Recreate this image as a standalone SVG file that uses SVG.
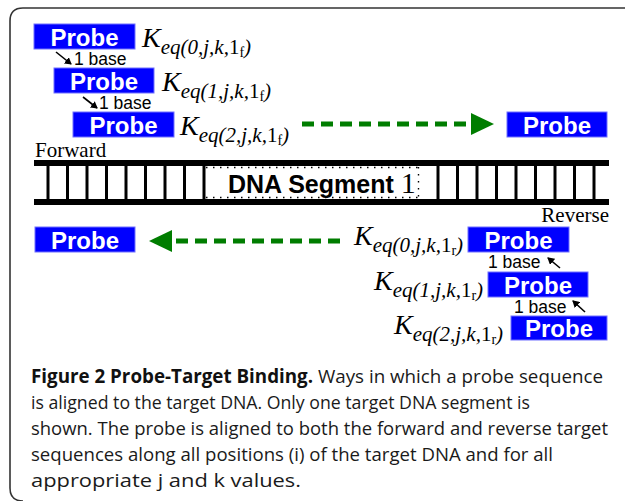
<svg xmlns="http://www.w3.org/2000/svg" width="625" height="501" viewBox="0 0 625 501">
<defs>
<marker id="ah" markerWidth="8" markerHeight="8" refX="6" refY="4" orient="auto" markerUnits="userSpaceOnUse"><path d="M0,0 L7,4 L0,8 Z" fill="#000"/></marker>
<style>
.pb{fill:#0000ff;stroke:#7070ff;stroke-width:1}
.pt{font-family:"Liberation Sans",Arial,sans-serif;font-weight:bold;font-size:24px;fill:#fff;text-anchor:middle}
.k{font-family:"Liberation Serif","Times New Roman",serif;font-style:italic;font-size:21px;fill:#000}
.K{font-size:28px}
.up{font-style:normal}
.ss{font-style:normal;font-size:14px}
.base{font-family:"Liberation Sans",Arial,sans-serif;font-size:17.5px;fill:#000}
.bl{stroke:#000;stroke-width:1.6;marker-end:url(#ah)}
.rail{fill:#000}
.rung{stroke:#000;stroke-width:3}
.gd{stroke:#007d00;stroke-width:5;stroke-dasharray:12,7;fill:none}
.gh{fill:#007d00}
.lab{font-family:"Liberation Serif","Times New Roman",serif;font-size:21px;fill:#000}
.cap{font-family:"Open Sans","Noto Sans",sans-serif;font-size:19px;fill:#1a1a1a}
</style>
</defs>
<rect width="625" height="501" fill="#fff"/>
<path d="M625,8 H23 Q10,8 10,21 V488 Q10,501 23,501" fill="none" stroke="#333" stroke-width="1.6"/>

<g id="dna">
<rect class="rail" x="34" y="160" width="575" height="6"/>
<rect class="rail" x="34" y="199" width="575" height="6"/>
<g class="rung">
<line x1="48" y1="166" x2="48" y2="199"/><line x1="67.5" y1="166" x2="67.5" y2="199"/><line x1="87" y1="166" x2="87" y2="199"/><line x1="106.5" y1="166" x2="106.5" y2="199"/><line x1="126" y1="166" x2="126" y2="199"/><line x1="145.5" y1="166" x2="145.5" y2="199"/><line x1="165" y1="166" x2="165" y2="199"/><line x1="184.5" y1="166" x2="184.5" y2="199"/><line x1="204" y1="166" x2="204" y2="199"/>
<line x1="438" y1="166" x2="438" y2="199"/><line x1="457.5" y1="166" x2="457.5" y2="199"/><line x1="477" y1="166" x2="477" y2="199"/><line x1="496.5" y1="166" x2="496.5" y2="199"/><line x1="516" y1="166" x2="516" y2="199"/><line x1="535.5" y1="166" x2="535.5" y2="199"/><line x1="555" y1="166" x2="555" y2="199"/><line x1="574.5" y1="166" x2="574.5" y2="199"/><line x1="594" y1="166" x2="594" y2="199"/>
</g>
<rect x="206" y="167" width="213" height="31" fill="#fff"/>
<path d="M206,167.5 H419 M206,197.5 H419 M418.5,167 V198" fill="none" stroke="#000" stroke-width="1.4" stroke-dasharray="1.5,5.5"/>
<text x="228" y="193" font-family="Liberation Sans,Arial,sans-serif" font-weight="bold" font-size="25" fill="#000">DNA Segment <tspan font-family="Liberation Serif,Times New Roman,serif" font-weight="normal" font-size="30">1</tspan></text>
<text class="lab" x="35" y="157">Forward</text>
<text class="lab" x="609" y="222" text-anchor="end">Reverse</text>
</g>

<g id="probe-f0"><rect class="pb" x="34" y="24" width="101" height="25"/><text class="pt" x="84.5" y="45.5">Probe</text>
<text class="k" x="142" y="47"><tspan class="K">K</tspan><tspan dy="7">eq(0,j,k,</tspan><tspan class="up">1</tspan><tspan class="ss" dy="3">f</tspan><tspan dy="-3">)</tspan></text></g>
<g id="probe-f1"><rect class="pb" x="54" y="68" width="100" height="25"/><text class="pt" x="104" y="89.5">Probe</text>
<text class="k" x="162" y="91"><tspan class="K">K</tspan><tspan dy="7">eq(1,j,k,</tspan><tspan class="up">1</tspan><tspan class="ss" dy="3">f</tspan><tspan dy="-3">)</tspan></text></g>
<g id="probe-f2"><rect class="pb" x="73" y="112" width="101" height="25"/><text class="pt" x="123.5" y="133.5">Probe</text>
<text class="k" x="180" y="135"><tspan class="K">K</tspan><tspan dy="7">eq(2,j,k,</tspan><tspan class="up">1</tspan><tspan class="ss" dy="3">f</tspan><tspan dy="-3">)</tspan></text></g>
<g id="probe-f-end"><rect class="pb" x="507" y="112" width="100" height="25"/><text class="pt" x="557" y="133.5">Probe</text></g>

<g id="probe-r-end"><rect class="pb" x="35" y="227" width="100" height="25"/><text class="pt" x="85" y="248.5">Probe</text></g>
<g id="probe-r0"><rect class="pb" x="468" y="227" width="101" height="25"/><text class="pt" x="518.5" y="248.5">Probe</text>
<text class="k" x="354" y="245"><tspan class="K">K</tspan><tspan dy="7">eq(0,j,k,</tspan><tspan class="up">1</tspan><tspan class="ss" dy="3">r</tspan><tspan dy="-3">)</tspan></text></g>
<g id="probe-r1"><rect class="pb" x="488" y="272" width="100" height="25"/><text class="pt" x="538" y="293.5">Probe</text>
<text class="k" x="374" y="290"><tspan class="K">K</tspan><tspan dy="7">eq(1,j,k,</tspan><tspan class="up">1</tspan><tspan class="ss" dy="3">r</tspan><tspan dy="-3">)</tspan></text></g>
<g id="probe-r2"><rect class="pb" x="511" y="316" width="96" height="24"/><text class="pt" x="559" y="337">Probe</text>
<text class="k" x="394" y="334"><tspan class="K">K</tspan><tspan dy="7">eq(2,j,k,</tspan><tspan class="up">1</tspan><tspan class="ss" dy="3">r</tspan><tspan dy="-3">)</tspan></text></g>

<g id="connectors">
<line class="bl" x1="56" y1="52" x2="71" y2="64"/>
<text class="base" x="74" y="65">1 base</text>
<line class="bl" x1="83" y1="97" x2="97" y2="108"/>
<text class="base" x="99" y="109">1 base</text>
<line class="bl" x1="560" y1="268" x2="548" y2="258"/>
<text class="base" x="488" y="268">1 base</text>
<line class="bl" x1="585" y1="312" x2="573" y2="301"/>
<text class="base" x="514" y="313">1 base</text>
<line class="gd" x1="302" y1="124" x2="471" y2="124"/>
<polygon class="gh" points="471,113 494,124 471,135"/>
<line class="gd" x1="340" y1="241" x2="172" y2="241"/>
<polygon class="gh" points="172,230 149,241 172,252"/>
</g>

<g id="caption">
<text class="cap" x="31" y="383" textLength="572" lengthAdjust="spacingAndGlyphs"><tspan font-weight="bold" fill="#111">Figure 2 Probe-Target Binding.</tspan> Ways in which a probe sequence</text>
<text class="cap" x="31" y="409" textLength="499" lengthAdjust="spacingAndGlyphs">is aligned to the target DNA. Only one target DNA segment is</text>
<text class="cap" x="31" y="435" textLength="577" lengthAdjust="spacingAndGlyphs">shown. The probe is aligned to both the forward and reverse target</text>
<text class="cap" x="31" y="461" textLength="522" lengthAdjust="spacingAndGlyphs">sequences along all positions (i) of the target DNA and for all</text>
<text class="cap" x="31" y="487" textLength="270" lengthAdjust="spacingAndGlyphs">appropriate j and k values.</text>
</g>
</svg>
